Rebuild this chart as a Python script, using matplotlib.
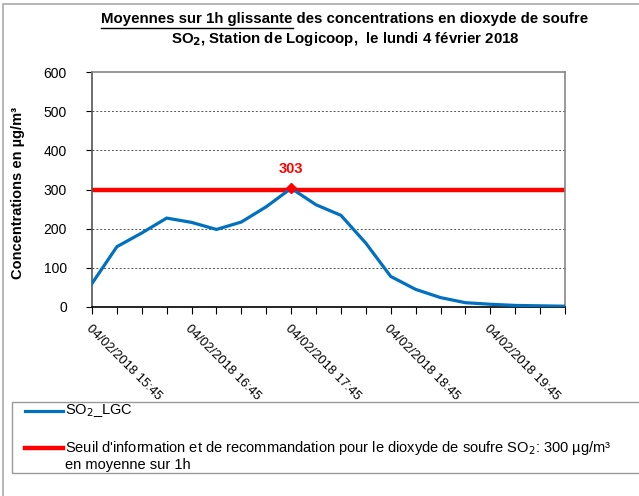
import matplotlib
matplotlib.use("Agg")
import matplotlib.pyplot as plt
from matplotlib.lines import Line2D
from matplotlib.patches import Rectangle

plt.rcParams['font.family'] = ['Liberation Sans', 'DejaVu Sans']

times = ["15:45", "16:00", "16:15", "16:30", "16:45", "17:00", "17:15", "17:30",
         "17:45", "18:00", "18:15", "18:30", "18:45", "19:00", "19:15", "19:30",
         "19:45", "20:00", "20:15", "20:30"]
so2_lgc = [60, 154, 189, 227, 216, 198, 217, 256, 303, 261, 234, 163, 78, 45, 24,
           11, 7, 4, 3, 2]
threshold = 300
date_prefix = "04/02/2018 "
yticks = [0, 100, 200, 300, 400, 500, 600]

W, H = 639, 496
fig = plt.figure(figsize=(W / 100, H / 100), dpi=100)

def fx(px):
    return px / W

def fy(py):
    return 1 - py / H

ax = fig.add_axes([fx(92), fy(307), fx(565) - fx(92), fy(72) - fy(307)])
x = list(range(len(so2_lgc)))
ax.plot(x, so2_lgc, color='#0070C0', lw=2.3, zorder=3, solid_joinstyle='miter')
ax.axhline(threshold, color='#FF0000', lw=3.2, zorder=2)
imax = so2_lgc.index(max(so2_lgc))
ax.plot([x[imax]], [so2_lgc[imax]], marker='D', color='#FF0000', ms=5, zorder=4)
ax.annotate(str(so2_lgc[imax]), (x[imax], so2_lgc[imax]), xytext=(0, 9),
            textcoords='offset points', ha='center', va='bottom',
            color='#FF0000', fontsize=10.5, fontweight='bold')

ax.set_xlim(0, len(x) - 1)
ax.set_ylim(0, 600)
ax.set_yticks(yticks)
ax.set_yticklabels([str(v) for v in yticks], fontsize=10)
for v in yticks[1:-1]:
    if v != threshold:
        ax.axhline(v, color='#555555', lw=0.7, ls=(0, (2, 2)), zorder=1)
ax.set_xticks(x)
ax.set_xticklabels([date_prefix + t if i % 4 == 0 else "" for i, t in enumerate(times)],
                   rotation=-45, ha='left', va='top', rotation_mode='anchor', fontsize=9.3)
ax.tick_params(axis='x', direction='out', length=5, width=0.8, pad=6)
ax.tick_params(axis='y', direction='out', length=4, width=0.8, pad=14)
for s in ['top', 'right']:
    ax.spines[s].set_color('#888888')
    ax.spines[s].set_linewidth(1.2)
ax.spines['left'].set_color('#555555')
ax.spines['left'].set_linewidth(1.2)
ax.spines['bottom'].set_color('black')
ax.spines['bottom'].set_linewidth(1.2)

fig.text(fx(18), fy(193), "Concentrations en µg/m³", rotation=90, ha='center', va='center',
         fontsize=10.5, fontweight='bold')

# Title
cx = fx(345)
t1_prefix = "Moyennes sur 1h glissante"
t1_full = t1_prefix + " des concentrations en dioxyde de soufre"
tfs = 10.8
t1 = fig.text(cx, fy(19), t1_full, ha='center', va='center', fontsize=tfs, fontweight='bold')
fig.text(cx, fy(39), "SO$_\\mathbf{2}$, Station de Logicoop,  le lundi 4 février 2018",
         ha='center', va='center', fontsize=tfs, fontweight='bold')
fig.canvas.draw()
r = fig.canvas.get_renderer()
bb_full = t1.get_window_extent(r)
tmp = fig.text(0, 0, t1_prefix, fontsize=tfs, fontweight='bold')
bb_pre = tmp.get_window_extent(r)
tmp.remove()
x0 = bb_full.x0
fig.add_artist(Line2D([x0 / W, (x0 + bb_pre.width) / W], [fy(27.5), fy(27.5)],
                      color='black', lw=1.0, transform=fig.transFigure))

# Outer border
fig.add_artist(Rectangle((fx(2.5), fy(700)), 2, fy(4) - fy(700), transform=fig.transFigure,
                         fill=False, ec='#AAAAAA', lw=1.2))

# Legend box
lfs = 10.5
fig.add_artist(Rectangle((fx(12), fy(473)), 2, fy(402) - fy(473), transform=fig.transFigure,
                         fill=False, ec='#999999', lw=1.0))
fig.add_artist(Line2D([fx(25), fx(63)], [fy(411), fy(411)], color='#0070C0', lw=2.3,
                      transform=fig.transFigure))
fig.text(fx(65), fy(411), "SO$_2$_LGC", ha='left', va='center', fontsize=lfs)
fig.add_artist(Line2D([fx(25), fx(63)], [fy(448), fy(448)], color='#FF0000', lw=3.2,
                      transform=fig.transFigure))
fig.text(fx(65), fy(448),
         "Seuil d'information et de recommandation pour le dioxyde de soufre SO$_2$: 300 µg/m³",
         ha='left', va='center', fontsize=lfs)
fig.text(fx(65), fy(465), "en moyenne sur 1h", ha='left', va='center', fontsize=lfs)

fig.savefig("out.png", dpi=100)
